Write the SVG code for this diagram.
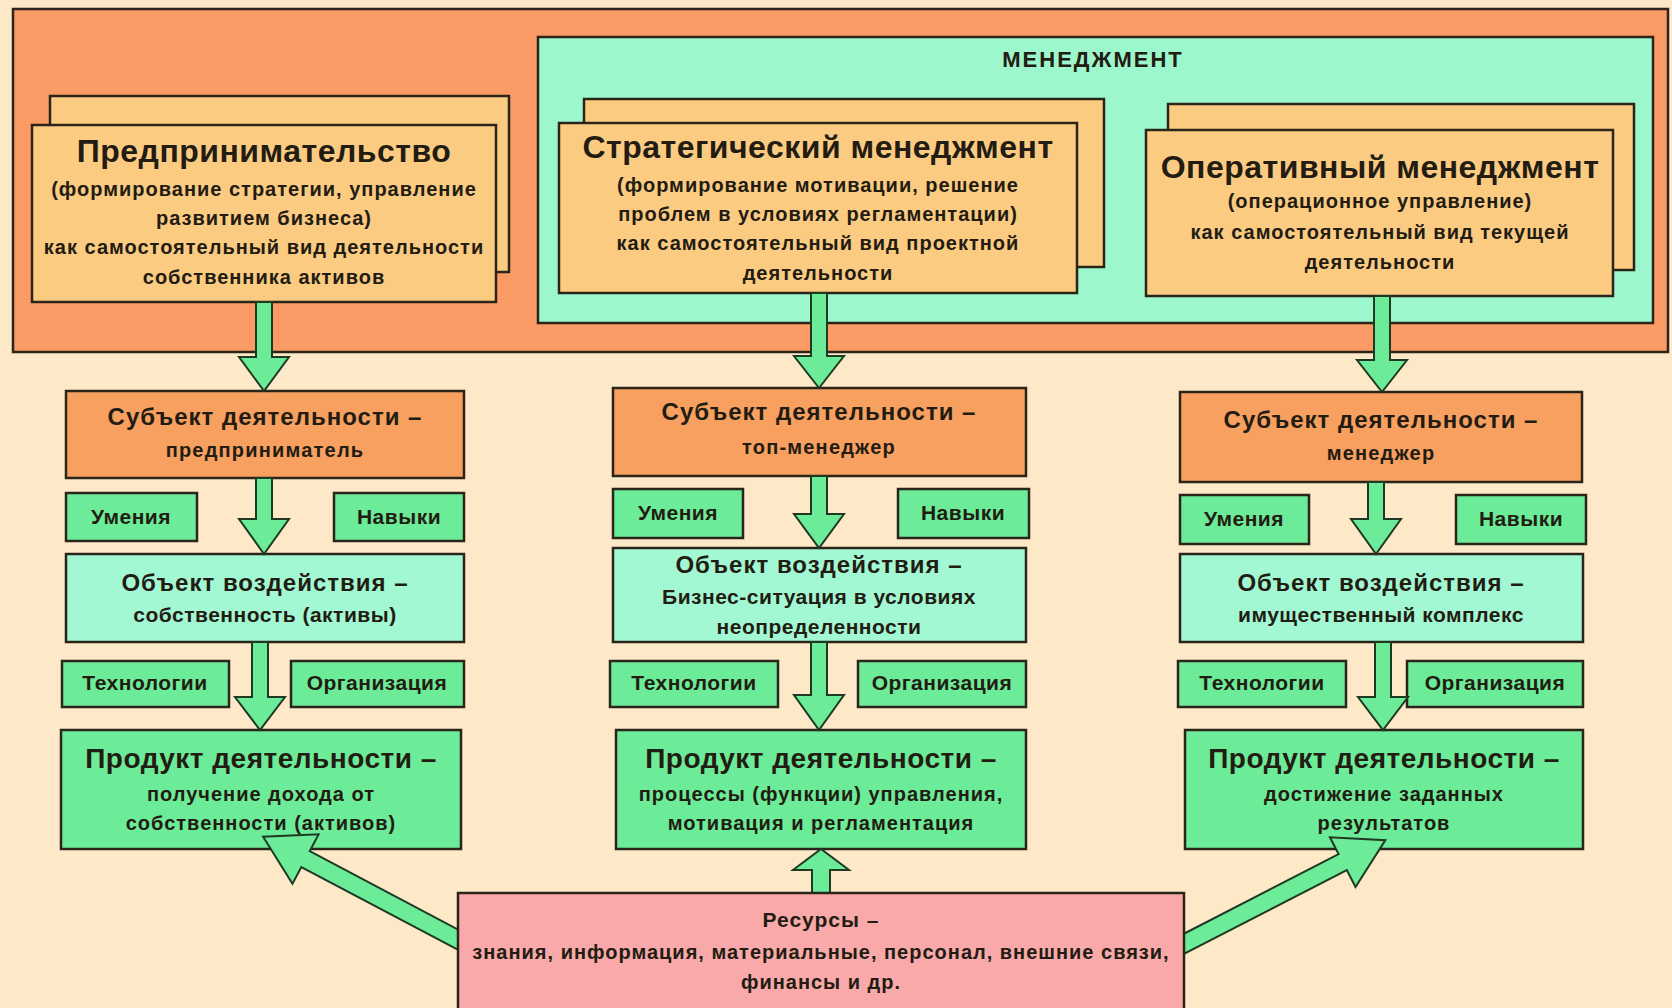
<svg xmlns="http://www.w3.org/2000/svg" width="1672" height="1008" viewBox="0 0 1672 1008">
<defs>
<style>
text{font-family:"Liberation Sans",Arial,sans-serif;font-weight:bold;text-anchor:middle;fill:#221c12}
.bx{stroke:#2b2418;stroke-width:2.5}
.top{fill:#FCCB82}
.subj{fill:#F8A060}
.grn{fill:#6CEB98}
.obj{fill:#A2F8D2}
.res{fill:#F9A9A9}
.arr{fill:#6CEB98;stroke:#1f3a22;stroke-width:2;stroke-linejoin:miter}
.t1{font-size:32px;letter-spacing:0.5px}
.t2{font-size:20px;letter-spacing:1px}
.s1{font-size:24px;letter-spacing:1px}
.s2{font-size:20px;letter-spacing:1.2px}
.sm{font-size:21px;letter-spacing:0.5px}
.p1{font-size:28px;letter-spacing:0.5px}
.p2{font-size:20px;letter-spacing:1px}
</style>
</defs>
<rect x="0" y="0" width="1672" height="1008" fill="#FDE8C8"/>
<g id="outer">
<rect x="13" y="9" width="1655" height="343" fill="#FA9A64" class="bx"/>
</g>
<g id="management">
<rect x="538" y="37" width="1115" height="286" fill="#9CF7CC" class="bx"/>
<text x="1093" y="67" style="font-size:22px;letter-spacing:2px">МЕНЕДЖМЕНТ</text>
</g>
<g id="entrepreneurship">
<rect x="50" y="96" width="459" height="176" class="bx top"/>
<rect x="32" y="125" width="464" height="177" class="bx top"/>
<text x="264" y="162" class="t1">Предпринимательство</text>
<text x="264" y="196" class="t2">(формирование стратегии, управление</text>
<text x="264" y="225" class="t2">развитием бизнеса)</text>
<text x="264" y="254" class="t2">как самостоятельный вид деятельности</text>
<text x="264" y="284" class="t2">собственника активов</text>
</g>
<g id="strategic">
<rect x="584" y="99" width="520" height="168" class="bx top"/>
<rect x="559" y="123" width="518" height="170" class="bx top"/>
<text x="818" y="158" class="t1">Стратегический менеджмент</text>
<text x="818" y="192" class="t2">(формирование мотивации, решение</text>
<text x="818" y="221" class="t2">проблем в условиях регламентации)</text>
<text x="818" y="250" class="t2">как самостоятельный вид проектной</text>
<text x="818" y="280" class="t2">деятельности</text>
</g>
<g id="operative">
<rect x="1168" y="104" width="466" height="166" class="bx top"/>
<rect x="1146" y="130" width="467" height="166" class="bx top"/>
<text x="1380" y="178" class="t1">Оперативный менеджмент</text>
<text x="1380" y="208" class="t2">(операционное управление)</text>
<text x="1380" y="239" class="t2">как самостоятельный вид текущей</text>
<text x="1380" y="269" class="t2">деятельности</text>
</g>
<g id="subject-left">
<rect x="66" y="391" width="398" height="87" class="bx subj"/>
<text x="265" y="425" class="s1">Субъект деятельности –</text>
<text x="265" y="457" class="s2">предприниматель</text>
</g>
<g id="subject-mid">
<rect x="613" y="388" width="413" height="88" class="bx subj"/>
<text x="819" y="420" class="s1">Субъект деятельности –</text>
<text x="819" y="454" class="s2">топ-менеджер</text>
</g>
<g id="subject-right">
<rect x="1180" y="392" width="402" height="90" class="bx subj"/>
<text x="1381" y="428" class="s1">Субъект деятельности –</text>
<text x="1381" y="460" class="s2">менеджер</text>
</g>
<g id="skills-left-1"><rect x="66" y="493" width="131" height="48" class="bx grn"/><text x="131" y="524" class="sm">Умения</text></g>
<g id="skills-left-2"><rect x="334" y="493" width="130" height="48" class="bx grn"/><text x="399" y="524" class="sm">Навыки</text></g>
<g id="skills-mid-1"><rect x="613" y="489" width="130" height="49" class="bx grn"/><text x="678" y="520" class="sm">Умения</text></g>
<g id="skills-mid-2"><rect x="898" y="489" width="131" height="49" class="bx grn"/><text x="963" y="520" class="sm">Навыки</text></g>
<g id="skills-right-1"><rect x="1180" y="495" width="129" height="49" class="bx grn"/><text x="1244" y="526" class="sm">Умения</text></g>
<g id="skills-right-2"><rect x="1456" y="495" width="130" height="49" class="bx grn"/><text x="1521" y="526" class="sm">Навыки</text></g>
<g id="object-left">
<rect x="66" y="554" width="398" height="88" class="bx obj"/>
<text x="265" y="591" class="s1">Объект воздействия –</text>
<text x="265" y="622" class="sm">собственность (активы)</text>
</g>
<g id="object-mid">
<rect x="613" y="548" width="413" height="94" class="bx obj"/>
<text x="819" y="573" class="s1">Объект воздействия –</text>
<text x="819" y="604" class="sm">Бизнес-ситуация в условиях</text>
<text x="819" y="634" class="sm">неопределенности</text>
</g>
<g id="object-right">
<rect x="1180" y="554" width="403" height="88" class="bx obj"/>
<text x="1381" y="591" class="s1">Объект воздействия –</text>
<text x="1381" y="622" class="sm">имущественный комплекс</text>
</g>
<g id="tech-left-1"><rect x="62" y="661" width="167" height="46" class="bx grn"/><text x="145" y="690" class="sm">Технологии</text></g>
<g id="tech-left-2"><rect x="291" y="661" width="173" height="46" class="bx grn"/><text x="377" y="690" class="sm">Организация</text></g>
<g id="tech-mid-1"><rect x="610" y="661" width="168" height="46" class="bx grn"/><text x="694" y="690" class="sm">Технологии</text></g>
<g id="tech-mid-2"><rect x="858" y="661" width="168" height="46" class="bx grn"/><text x="942" y="690" class="sm">Организация</text></g>
<g id="tech-right-1"><rect x="1178" y="661" width="168" height="46" class="bx grn"/><text x="1262" y="690" class="sm">Технологии</text></g>
<g id="tech-right-2"><rect x="1407" y="661" width="176" height="46" class="bx grn"/><text x="1495" y="690" class="sm">Организация</text></g>
<g id="product-left">
<rect x="61" y="730" width="400" height="119" class="bx grn"/>
<text x="261" y="768" class="p1">Продукт деятельности –</text>
<text x="261" y="801" class="p2">получение дохода от</text>
<text x="261" y="830" class="p2">собственности (активов)</text>
</g>
<g id="product-mid">
<rect x="616" y="730" width="410" height="119" class="bx grn"/>
<text x="821" y="768" class="p1">Продукт деятельности –</text>
<text x="821" y="801" class="p2">процессы (функции) управления,</text>
<text x="821" y="830" class="p2">мотивация и регламентация</text>
</g>
<g id="product-right">
<rect x="1185" y="730" width="398" height="119" class="bx grn"/>
<text x="1384" y="768" class="p1">Продукт деятельности –</text>
<text x="1384" y="801" class="p2">достижение заданных</text>
<text x="1384" y="830" class="p2">результатов</text>
</g>
<g id="connectors">
<polygon class="arr" points="256,302 272,302 272,357 289,357 264,391 239,357 256,357"/>
<polygon class="arr" points="811,293 827,293 827,356 844,356 819,388 794,356 811,356"/>
<polygon class="arr" points="1374,296 1390,296 1390,360 1407,360 1382,392 1357,360 1374,360"/>
<polygon class="arr" points="256,478 272,478 272,519 289,519 264,554 239,519 256,519"/>
<polygon class="arr" points="811,476 827,476 827,514 844,514 819,548 794,514 811,514"/>
<polygon class="arr" points="1368,482 1384,482 1384,519 1401,519 1376,554 1351,519 1368,519"/>
<polygon class="arr" points="252,642 268,642 268,697 285,697 260,730 235,697 252,697"/>
<polygon class="arr" points="811,642 827,642 827,695 844,695 819,730 794,695 811,695"/>
<polygon class="arr" points="1375,642 1391,642 1391,697 1408,697 1383,730 1358,697 1375,697"/>
<polygon class="arr" points="812,900 830,900 830,870 849,870 821,849 793,870 812,870"/>
<g transform="translate(470,946) rotate(-152.15)">
<polygon class="arr" points="0,-9 186,-9 186,-28 234,0 186,28 186,9 0,9"/>
</g>
<g transform="translate(1172,950) rotate(-27.24)">
<polygon class="arr" points="0,-9 192,-9 192,-28 240,0 192,28 192,9 0,9"/>
</g>
</g>
<g id="resources">
<rect x="458" y="893" width="726" height="120" class="bx res"/>
<text x="821" y="927" style="font-size:21px;letter-spacing:1px">Ресурсы –</text>
<text x="821" y="959" class="p2">знания, информация, материальные, персонал, внешние связи,</text>
<text x="821" y="989" class="p2">финансы и др.</text>
</g>
</svg>
